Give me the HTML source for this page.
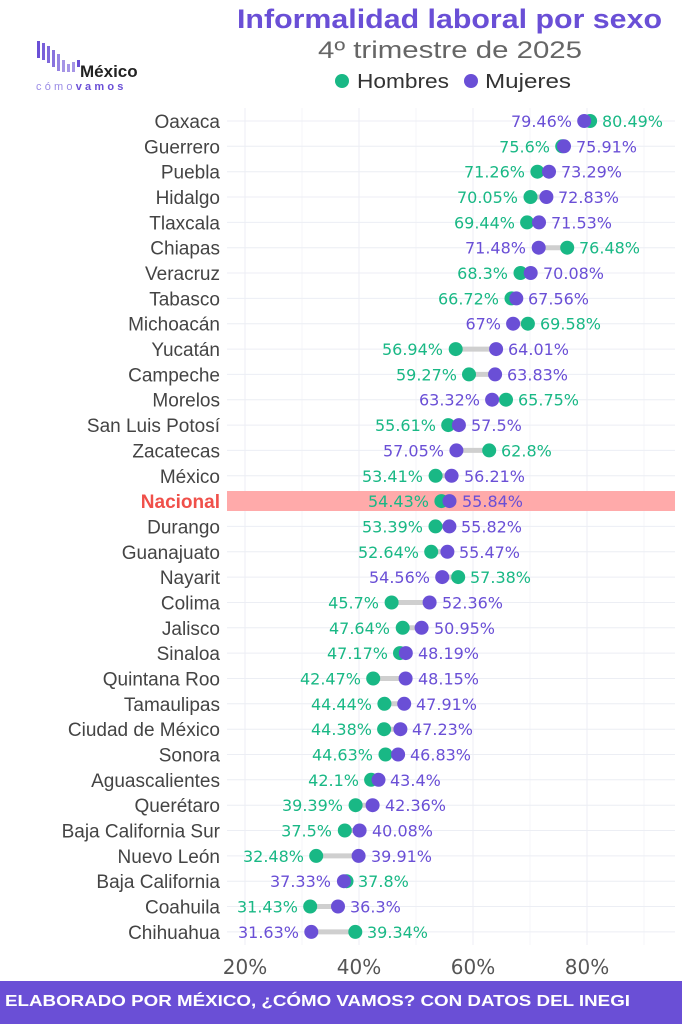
<!DOCTYPE html>
<html><head><meta charset="utf-8"><style>
html,body{margin:0;padding:0;background:#fff;}
svg{display:block;font-family:"Liberation Sans","DejaVu Sans",sans-serif;}
.st{font-size:19px;fill:#444;text-anchor:end;}
.g{fill:#19b885;font-size:16px;font-family:"DejaVu Sans",sans-serif;}
.p{fill:#6a4fd6;font-size:16px;font-family:"DejaVu Sans",sans-serif;}
.L{text-anchor:end;}
.ax{font-size:20px;fill:#555;text-anchor:middle;font-family:"DejaVu Sans",sans-serif;}
</style></head><body>
<svg width="682" height="1024" viewBox="0 0 682 1024">
<rect width="682" height="1024" fill="#fff"/>
<text x="237" y="28" textLength="425" lengthAdjust="spacingAndGlyphs" font-size="27" font-weight="bold" fill="#6a4fd6">Informalidad laboral por sexo</text>
<text x="318" y="58" textLength="264" lengthAdjust="spacingAndGlyphs" font-size="24" fill="#666">4º trimestre de 2025</text>
<circle cx="342" cy="81" r="7" fill="#19b885"/><text x="357" y="88" textLength="92" lengthAdjust="spacingAndGlyphs" font-size="20" fill="#333">Hombres</text>
<circle cx="471" cy="81" r="7" fill="#6a4fd6"/><text x="485" y="88" textLength="86" lengthAdjust="spacingAndGlyphs" font-size="20" fill="#333">Mujeres</text>
<g fill="#6a4fd6">
<rect x="37" y="41" width="3" height="17"/><rect x="42" y="43" width="3" height="17" opacity=".9"/><rect x="47" y="46" width="3" height="17" opacity=".85"/><rect x="52" y="50" width="3" height="17" opacity=".8"/><rect x="57" y="54" width="3" height="17" opacity=".7"/><rect x="62" y="60" width="3" height="12" opacity=".6"/><rect x="67" y="64" width="3" height="8" opacity=".6"/><rect x="72" y="62" width="3" height="10" opacity=".6"/><rect x="77" y="60" width="3" height="7"/>
</g>
<text x="80" y="77" font-size="17" font-weight="bold" fill="#222">México</text>
<text x="36" y="90" font-size="11" fill="#9a8be6" letter-spacing="3.2">cómo<tspan font-weight="bold" fill="#6a4fd6">vamos</tspan></text>
<g stroke="#eceef4" stroke-width="1">
<line x1="245" y1="108" x2="245" y2="945"/><line x1="359" y1="108" x2="359" y2="945"/><line x1="473" y1="108" x2="473" y2="945"/><line x1="587" y1="108" x2="587" y2="945"/>
<line x1="302" y1="108" x2="302" y2="945" stroke="#f5f6fa"/><line x1="416" y1="108" x2="416" y2="945" stroke="#f5f6fa"/><line x1="530" y1="108" x2="530" y2="945" stroke="#f5f6fa"/><line x1="644" y1="108" x2="644" y2="945" stroke="#f5f6fa"/>
<line x1="227" x2="675" y1="121" y2="121"/><line x1="227" x2="675" y1="146.3" y2="146.3"/><line x1="227" x2="675" y1="171.7" y2="171.7"/><line x1="227" x2="675" y1="197" y2="197"/><line x1="227" x2="675" y1="222.4" y2="222.4"/><line x1="227" x2="675" y1="247.7" y2="247.7"/><line x1="227" x2="675" y1="273" y2="273"/><line x1="227" x2="675" y1="298.4" y2="298.4"/><line x1="227" x2="675" y1="323.7" y2="323.7"/><line x1="227" x2="675" y1="349.1" y2="349.1"/><line x1="227" x2="675" y1="374.4" y2="374.4"/><line x1="227" x2="675" y1="399.7" y2="399.7"/><line x1="227" x2="675" y1="425.1" y2="425.1"/><line x1="227" x2="675" y1="450.4" y2="450.4"/><line x1="227" x2="675" y1="475.8" y2="475.8"/><line x1="227" x2="675" y1="526.4" y2="526.4"/><line x1="227" x2="675" y1="551.8" y2="551.8"/><line x1="227" x2="675" y1="577.1" y2="577.1"/><line x1="227" x2="675" y1="602.5" y2="602.5"/><line x1="227" x2="675" y1="627.8" y2="627.8"/><line x1="227" x2="675" y1="653.1" y2="653.1"/><line x1="227" x2="675" y1="678.5" y2="678.5"/><line x1="227" x2="675" y1="703.8" y2="703.8"/><line x1="227" x2="675" y1="729.2" y2="729.2"/><line x1="227" x2="675" y1="754.5" y2="754.5"/><line x1="227" x2="675" y1="779.8" y2="779.8"/><line x1="227" x2="675" y1="805.2" y2="805.2"/><line x1="227" x2="675" y1="830.5" y2="830.5"/><line x1="227" x2="675" y1="855.9" y2="855.9"/><line x1="227" x2="675" y1="881.2" y2="881.2"/><line x1="227" x2="675" y1="906.5" y2="906.5"/><line x1="227" x2="675" y1="931.9" y2="931.9"/>
</g>
<rect x="227" y="491" width="448" height="20" fill="#ffaaaa"/>
<text class="st" x="220" y="128">Oaxaca</text>
<text class="st" x="220" y="153.3">Guerrero</text>
<text class="st" x="220" y="178.7">Puebla</text>
<text class="st" x="220" y="204">Hidalgo</text>
<text class="st" x="220" y="229.4">Tlaxcala</text>
<text class="st" x="220" y="254.7">Chiapas</text>
<text class="st" x="220" y="280">Veracruz</text>
<text class="st" x="220" y="305.4">Tabasco</text>
<text class="st" x="220" y="330.7">Michoacán</text>
<text class="st" x="220" y="356.1">Yucatán</text>
<text class="st" x="220" y="381.4">Campeche</text>
<text class="st" x="220" y="406.7">Morelos</text>
<text class="st" x="220" y="432.1">San Luis Potosí</text>
<text class="st" x="220" y="457.4">Zacatecas</text>
<text class="st" x="220" y="482.8">México</text>
<text class="st" x="220" y="508.1" style="fill:#f0504a;font-weight:bold">Nacional</text>
<text class="st" x="220" y="533.4">Durango</text>
<text class="st" x="220" y="558.8">Guanajuato</text>
<text class="st" x="220" y="584.1">Nayarit</text>
<text class="st" x="220" y="609.5">Colima</text>
<text class="st" x="220" y="634.8">Jalisco</text>
<text class="st" x="220" y="660.1">Sinaloa</text>
<text class="st" x="220" y="685.5">Quintana Roo</text>
<text class="st" x="220" y="710.8">Tamaulipas</text>
<text class="st" x="220" y="736.2">Ciudad de México</text>
<text class="st" x="220" y="761.5">Sonora</text>
<text class="st" x="220" y="786.8">Aguascalientes</text>
<text class="st" x="220" y="812.2">Querétaro</text>
<text class="st" x="220" y="837.5">Baja California Sur</text>
<text class="st" x="220" y="862.9">Nuevo León</text>
<text class="st" x="220" y="888.2">Baja California</text>
<text class="st" x="220" y="913.5">Coahuila</text>
<text class="st" x="220" y="938.9">Chihuahua</text>
<g stroke="#cfcfcf" stroke-width="5">
<line x1="584.2" x2="590.1" y1="121" y2="121"/><line x1="562.2" x2="564" y1="146.3" y2="146.3"/><line x1="537.4" x2="549" y1="171.7" y2="171.7"/><line x1="530.5" x2="546.4" y1="197" y2="197"/><line x1="527.1" x2="539" y1="222.4" y2="222.4"/><line x1="538.7" x2="567.2" y1="247.7" y2="247.7"/><line x1="520.5" x2="530.7" y1="273" y2="273"/><line x1="511.5" x2="516.3" y1="298.4" y2="298.4"/><line x1="513.1" x2="527.9" y1="323.7" y2="323.7"/><line x1="455.7" x2="496.1" y1="349.1" y2="349.1"/><line x1="469" x2="495.1" y1="374.4" y2="374.4"/><line x1="492.1" x2="506" y1="399.7" y2="399.7"/><line x1="448.2" x2="458.9" y1="425.1" y2="425.1"/><line x1="456.4" x2="489.2" y1="450.4" y2="450.4"/><line x1="435.6" x2="451.6" y1="475.8" y2="475.8"/><line x1="441.4" x2="449.5" y1="501.1" y2="501.1"/><line x1="435.5" x2="449.4" y1="526.4" y2="526.4"/><line x1="431.2" x2="447.4" y1="551.8" y2="551.8"/><line x1="442.2" x2="458.2" y1="577.1" y2="577.1"/><line x1="391.6" x2="429.6" y1="602.5" y2="602.5"/><line x1="402.7" x2="421.6" y1="627.8" y2="627.8"/><line x1="400" x2="405.8" y1="653.1" y2="653.1"/><line x1="373.2" x2="405.6" y1="678.5" y2="678.5"/><line x1="384.4" x2="404.2" y1="703.8" y2="703.8"/><line x1="384.1" x2="400.4" y1="729.2" y2="729.2"/><line x1="385.5" x2="398.1" y1="754.5" y2="754.5"/><line x1="371.1" x2="378.5" y1="779.8" y2="779.8"/><line x1="355.6" x2="372.6" y1="805.2" y2="805.2"/><line x1="344.8" x2="359.6" y1="830.5" y2="830.5"/><line x1="316.2" x2="358.6" y1="855.9" y2="855.9"/><line x1="343.9" x2="346.5" y1="881.2" y2="881.2"/><line x1="310.2" x2="338" y1="906.5" y2="906.5"/><line x1="311.3" x2="355.3" y1="931.9" y2="931.9"/>
</g>
<g fill="#19b885">
<circle r="7" cx="590.1" cy="121"/><circle r="7" cx="562.2" cy="146.3"/><circle r="7" cx="537.4" cy="171.7"/><circle r="7" cx="530.5" cy="197"/><circle r="7" cx="527.1" cy="222.4"/><circle r="7" cx="567.2" cy="247.7"/><circle r="7" cx="520.5" cy="273"/><circle r="7" cx="511.5" cy="298.4"/><circle r="7" cx="527.9" cy="323.7"/><circle r="7" cx="455.7" cy="349.1"/><circle r="7" cx="469" cy="374.4"/><circle r="7" cx="506" cy="399.7"/><circle r="7" cx="448.2" cy="425.1"/><circle r="7" cx="489.2" cy="450.4"/><circle r="7" cx="435.6" cy="475.8"/><circle r="7" cx="441.4" cy="501.1"/><circle r="7" cx="435.5" cy="526.4"/><circle r="7" cx="431.2" cy="551.8"/><circle r="7" cx="458.2" cy="577.1"/><circle r="7" cx="391.6" cy="602.5"/><circle r="7" cx="402.7" cy="627.8"/><circle r="7" cx="400" cy="653.1"/><circle r="7" cx="373.2" cy="678.5"/><circle r="7" cx="384.4" cy="703.8"/><circle r="7" cx="384.1" cy="729.2"/><circle r="7" cx="385.5" cy="754.5"/><circle r="7" cx="371.1" cy="779.8"/><circle r="7" cx="355.6" cy="805.2"/><circle r="7" cx="344.8" cy="830.5"/><circle r="7" cx="316.2" cy="855.9"/><circle r="7" cx="346.5" cy="881.2"/><circle r="7" cx="310.2" cy="906.5"/><circle r="7" cx="355.3" cy="931.9"/>
</g>
<g fill="#6a4fd6">
<circle r="7" cx="584.2" cy="121"/><circle r="7" cx="564" cy="146.3"/><circle r="7" cx="549" cy="171.7"/><circle r="7" cx="546.4" cy="197"/><circle r="7" cx="539" cy="222.4"/><circle r="7" cx="538.7" cy="247.7"/><circle r="7" cx="530.7" cy="273"/><circle r="7" cx="516.3" cy="298.4"/><circle r="7" cx="513.1" cy="323.7"/><circle r="7" cx="496.1" cy="349.1"/><circle r="7" cx="495.1" cy="374.4"/><circle r="7" cx="492.1" cy="399.7"/><circle r="7" cx="458.9" cy="425.1"/><circle r="7" cx="456.4" cy="450.4"/><circle r="7" cx="451.6" cy="475.8"/><circle r="7" cx="449.5" cy="501.1"/><circle r="7" cx="449.4" cy="526.4"/><circle r="7" cx="447.4" cy="551.8"/><circle r="7" cx="442.2" cy="577.1"/><circle r="7" cx="429.6" cy="602.5"/><circle r="7" cx="421.6" cy="627.8"/><circle r="7" cx="405.8" cy="653.1"/><circle r="7" cx="405.6" cy="678.5"/><circle r="7" cx="404.2" cy="703.8"/><circle r="7" cx="400.4" cy="729.2"/><circle r="7" cx="398.1" cy="754.5"/><circle r="7" cx="378.5" cy="779.8"/><circle r="7" cx="372.6" cy="805.2"/><circle r="7" cx="359.6" cy="830.5"/><circle r="7" cx="358.6" cy="855.9"/><circle r="7" cx="343.9" cy="881.2"/><circle r="7" cx="338" cy="906.5"/><circle r="7" cx="311.3" cy="931.9"/>
</g>
<text class="p L" x="572" y="127">79.46%</text><text class="g" x="602" y="127">80.49%</text>
<text class="g L" x="550" y="152.3">75.6%</text><text class="p" x="576" y="152.3">75.91%</text>
<text class="g L" x="525" y="177.7">71.26%</text><text class="p" x="561" y="177.7">73.29%</text>
<text class="g L" x="518" y="203">70.05%</text><text class="p" x="558" y="203">72.83%</text>
<text class="g L" x="515" y="228.4">69.44%</text><text class="p" x="551" y="228.4">71.53%</text>
<text class="p L" x="526" y="253.7">71.48%</text><text class="g" x="579" y="253.7">76.48%</text>
<text class="g L" x="508" y="279">68.3%</text><text class="p" x="543" y="279">70.08%</text>
<text class="g L" x="499" y="304.4">66.72%</text><text class="p" x="528" y="304.4">67.56%</text>
<text class="p L" x="501" y="329.7">67%</text><text class="g" x="540" y="329.7">69.58%</text>
<text class="g L" x="443" y="355.1">56.94%</text><text class="p" x="508" y="355.1">64.01%</text>
<text class="g L" x="457" y="380.4">59.27%</text><text class="p" x="507" y="380.4">63.83%</text>
<text class="p L" x="480" y="405.7">63.32%</text><text class="g" x="518" y="405.7">65.75%</text>
<text class="g L" x="436" y="431.1">55.61%</text><text class="p" x="471" y="431.1">57.5%</text>
<text class="p L" x="444" y="456.4">57.05%</text><text class="g" x="501" y="456.4">62.8%</text>
<text class="g L" x="423" y="481.8">53.41%</text><text class="p" x="464" y="481.8">56.21%</text>
<text class="g L" x="429" y="507.1">54.43%</text><text class="p" x="462" y="507.1">55.84%</text>
<text class="g L" x="423" y="532.4">53.39%</text><text class="p" x="461" y="532.4">55.82%</text>
<text class="g L" x="419" y="557.8">52.64%</text><text class="p" x="459" y="557.8">55.47%</text>
<text class="p L" x="430" y="583.1">54.56%</text><text class="g" x="470" y="583.1">57.38%</text>
<text class="g L" x="379" y="608.5">45.7%</text><text class="p" x="442" y="608.5">52.36%</text>
<text class="g L" x="390" y="633.8">47.64%</text><text class="p" x="434" y="633.8">50.95%</text>
<text class="g L" x="388" y="659.1">47.17%</text><text class="p" x="418" y="659.1">48.19%</text>
<text class="g L" x="361" y="684.5">42.47%</text><text class="p" x="418" y="684.5">48.15%</text>
<text class="g L" x="372" y="709.8">44.44%</text><text class="p" x="416" y="709.8">47.91%</text>
<text class="g L" x="372" y="735.2">44.38%</text><text class="p" x="412" y="735.2">47.23%</text>
<text class="g L" x="373" y="760.5">44.63%</text><text class="p" x="410" y="760.5">46.83%</text>
<text class="g L" x="359" y="785.8">42.1%</text><text class="p" x="390" y="785.8">43.4%</text>
<text class="g L" x="343" y="811.2">39.39%</text><text class="p" x="385" y="811.2">42.36%</text>
<text class="g L" x="332" y="836.5">37.5%</text><text class="p" x="372" y="836.5">40.08%</text>
<text class="g L" x="304" y="861.9">32.48%</text><text class="p" x="371" y="861.9">39.91%</text>
<text class="p L" x="331" y="887.2">37.33%</text><text class="g" x="358" y="887.2">37.8%</text>
<text class="g L" x="298" y="912.5">31.43%</text><text class="p" x="350" y="912.5">36.3%</text>
<text class="p L" x="299" y="937.9">31.63%</text><text class="g" x="367" y="937.9">39.34%</text>
<text class="ax" x="245" y="974">20%</text><text class="ax" x="359" y="974">40%</text><text class="ax" x="473" y="974">60%</text><text class="ax" x="587" y="974">80%</text>
<rect x="0" y="981" width="682" height="43" fill="#6a4fd6"/>
<text x="5" y="1006" textLength="625" lengthAdjust="spacingAndGlyphs" font-size="16" font-weight="bold" fill="#fff">ELABORADO POR MÉXICO, ¿CÓMO VAMOS? CON DATOS DEL INEGI</text>
</svg>
</body></html>
